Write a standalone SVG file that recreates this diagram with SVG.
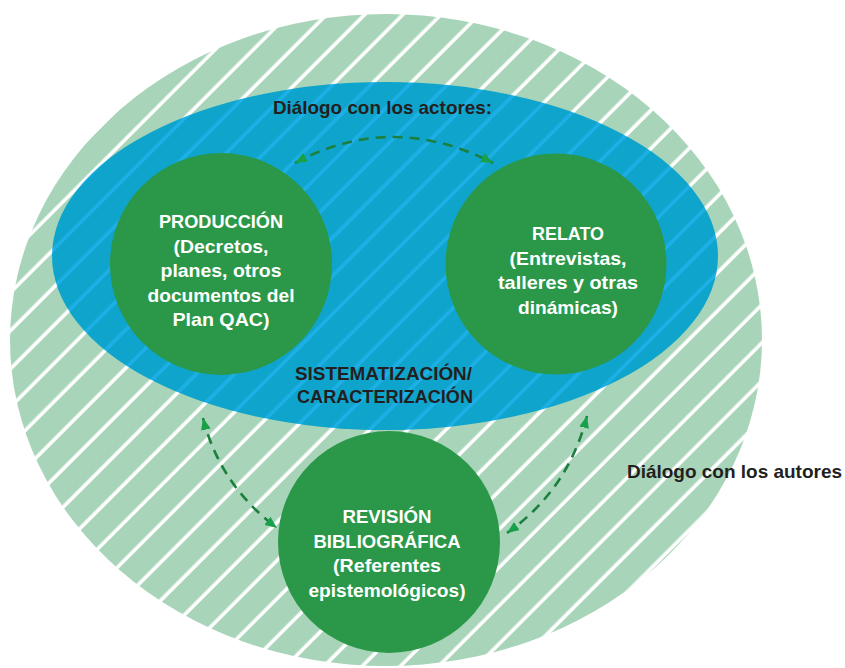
<svg xmlns="http://www.w3.org/2000/svg" width="845" height="668" viewBox="0 0 845 668">
  <defs>
    <pattern id="stripesG" patternUnits="userSpaceOnUse" width="40" height="27" patternTransform="rotate(-45)">
      <rect x="0" y="0" width="40" height="27" fill="#a8d4b9"/>
      <rect x="0" y="23.4" width="40" height="4.6" fill="#ffffff"/>
    </pattern>
    <pattern id="stripesB" patternUnits="userSpaceOnUse" width="40" height="27" patternTransform="rotate(-45)">
      <rect x="0" y="0" width="40" height="27" fill="#0fa4cb"/>
      <rect x="0" y="23.4" width="40" height="4.6" fill="#1db0e7"/>
    </pattern>
    <marker id="ah" viewBox="0 0 12 10" refX="12" refY="5" markerWidth="12" markerHeight="10" markerUnits="userSpaceOnUse" orient="auto-start-reverse">
      <path d="M0,0 L12,5 L0,10 Z" fill="#19a04a"/>
    </marker>
    <style>
      .lbl { font-family: "Liberation Sans", Arial, sans-serif; font-weight: bold; font-size: 18.5px; }
      .w { fill: #ffffff; text-anchor: middle; }
      .d { fill: #231f20; }
      .node { fill: #2a9848; }
      .conn { fill: none; stroke: #1c7f3d; stroke-width: 2.6; stroke-dasharray: 10 7; }
    </style>
  </defs>

  <g id="outer">
    <ellipse cx="386" cy="340" rx="376" ry="326" fill="url(#stripesG)"/>
  </g>
  <g id="inner">
    <ellipse cx="385" cy="256" rx="333" ry="174" fill="url(#stripesB)"/>
    <text class="lbl d" x="273" y="114" textLength="219" lengthAdjust="spacingAndGlyphs">Diálogo con los actores:</text>
    <text class="lbl d" x="295" y="380" textLength="177" lengthAdjust="spacingAndGlyphs">SISTEMATIZACIÓN/</text>
    <text class="lbl d" x="297" y="403" textLength="176" lengthAdjust="spacingAndGlyphs">CARACTERIZACIÓN</text>
  </g>

  <g id="produccion">
    <circle class="node" cx="221" cy="264" r="111"/>
    <text class="lbl w" x="221" y="228" textLength="124" lengthAdjust="spacingAndGlyphs">PRODUCCIÓN</text>
    <text class="lbl w" x="221" y="252.5" textLength="95" lengthAdjust="spacingAndGlyphs">(Decretos,</text>
    <text class="lbl w" x="221" y="277" textLength="121" lengthAdjust="spacingAndGlyphs">planes, otros</text>
    <text class="lbl w" x="221" y="301.5" textLength="147" lengthAdjust="spacingAndGlyphs">documentos del</text>
    <text class="lbl w" x="221" y="326" textLength="97" lengthAdjust="spacingAndGlyphs">Plan QAC)</text>
  </g>

  <g id="relato">
    <circle class="node" cx="556" cy="264" r="110.5"/>
    <text class="lbl w" x="568" y="240" textLength="72" lengthAdjust="spacingAndGlyphs">RELATO</text>
    <text class="lbl w" x="568" y="264.5" textLength="117" lengthAdjust="spacingAndGlyphs">(Entrevistas,</text>
    <text class="lbl w" x="568" y="289" textLength="140" lengthAdjust="spacingAndGlyphs">talleres y otras</text>
    <text class="lbl w" x="568" y="313.5" textLength="100" lengthAdjust="spacingAndGlyphs">dinámicas)</text>
  </g>

  <g id="revision">
    <circle class="node" cx="389" cy="542" r="111"/>
    <text class="lbl w" x="387" y="523" textLength="89" lengthAdjust="spacingAndGlyphs">REVISIÓN</text>
    <text class="lbl w" x="387" y="547.5" textLength="147" lengthAdjust="spacingAndGlyphs">BIBLIOGRÁFICA</text>
    <text class="lbl w" x="387" y="572" textLength="108" lengthAdjust="spacingAndGlyphs">(Referentes</text>
    <text class="lbl w" x="387" y="596.5" textLength="157" lengthAdjust="spacingAndGlyphs">epistemológicos)</text>
  </g>

  <g id="autores-label">
    <text class="lbl d" x="627" y="478" textLength="215" lengthAdjust="spacingAndGlyphs">Diálogo con los autores</text>
  </g>

  <g id="connectors">
    <path class="conn" d="M295,163 Q392,111 493,163" marker-start="url(#ah)" marker-end="url(#ah)"/>
    <path class="conn" d="M203,418 Q220,485 277,528" marker-start="url(#ah)" marker-end="url(#ah)"/>
    <path class="conn" d="M587,416 Q568,490 507,533" marker-start="url(#ah)" marker-end="url(#ah)"/>
  </g>
</svg>
